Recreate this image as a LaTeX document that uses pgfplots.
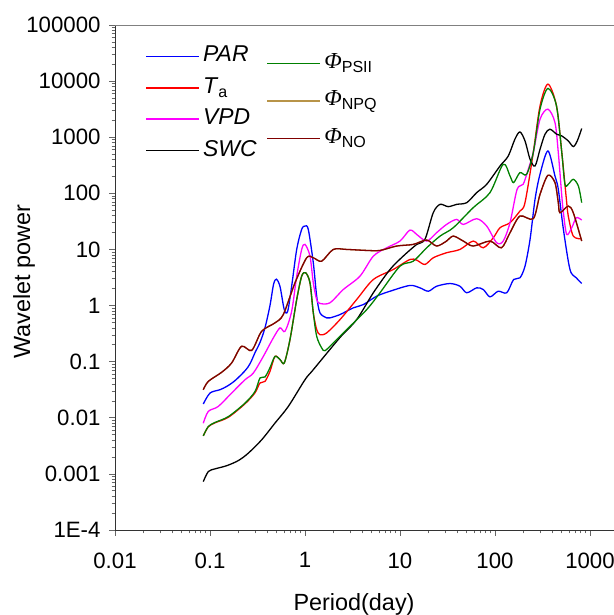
\documentclass[border=0pt]{standalone}
\usepackage{fontspec}
\setmainfont{Liberation Sans}
\newfontfamily\phifont{Liberation Serif}
\usepackage{pgfplots}
\pgfplotsset{compat=1.18}
\definecolor{cPAR}{RGB}{0,0,255}
\definecolor{cTa}{RGB}{255,0,0}
\definecolor{cVPD}{RGB}{255,0,255}
\definecolor{cSWC}{RGB}{0,0,0}
\definecolor{cPSII}{RGB}{0,128,0}
\definecolor{cNPQ}{RGB}{184,148,72}
\definecolor{cNO}{RGB}{128,0,0}
\newcommand{\Phis}{{\phifont\itshape Φ}}
\begin{document}
\begin{tikzpicture}
\begin{axis}[
  scale only axis, width=499bp, height=505bp,
  xmode=log, ymode=log,
  xmin=0.01, xmax=1790, ymin=1e-4, ymax=1e5,
  legend cell align=left,
  legend image code/.code={\fill[#1, draw=none] (0bp,-0.8bp) rectangle (53bp,0.8bp);},
  every axis plot/.append style={line width=1.3bp, smooth, tension=0.5},
  axis x line*=bottom, axis y line*=left,
  axis line style={-, black!80, line width=0.8bp},
  tick align=outside, major tick length=6bp, minor tick length=3.5bp,
  tick style={black!60, line width=0.6bp},
  xtick={0.01,0.1,1,10,100,1000}, xticklabels={0.01,0.1,1,10,100,1000},
  ytick={1e-4,1e-3,0.01,0.1,1,10,100,1000,1e4,1e5},
  yticklabels={1E-4,0.001,0.01,0.1,1,10,100,1000,10000,100000},
  ticklabel style={font=\fontsize{22.3}{26}\selectfont},
  xticklabel style={yshift=-13bp},
  yticklabel style={xshift=-5bp},
  xlabel={Period(day)}, ylabel={Wavelet power},
  label style={font=\fontsize{23.5}{27}\selectfont},
  xlabel style={at={(axis description cs:0.479,-0.147)}, anchor=center},
  ylabel style={at={(axis description cs:-0.1824,0.492)}, anchor=center},
  legend style={draw=none, fill=none, at={(axis description cs:0.062,0.961)}, anchor=north west,
    font=\fontsize{23}{27}\selectfont, column sep=4bp, row sep=8.4bp, inner sep=0pt,
    nodes={inner sep=0pt, text height=17bp, text depth=6bp}},
]
% PAR
\addplot[cPAR] coordinates {
(0.0850,0.0176) (0.1,0.0276) (0.127,0.0316) (0.150,0.0362) (0.183,0.0458) (0.234,0.069) (0.264,0.092) (0.298,0.145) (0.336,0.22) (0.379,0.40) (0.428,1.0) (0.467,2.4) (0.5,2.95) (0.546,2.18) (0.605,0.85) (0.657,0.79) (0.724,2.21) (0.818,10) (0.923,22.8) (1,26.1) (1.083,22.8) (1.223,5.79) (1.328,1.47) (1.438,0.741) (1.693,0.603) (1.833,0.603) (2.336,0.691) (3.225,0.910) (4.11,1.04) (5.69,1.47) (7.85,1.80) (12.7,2.28) (16.2,2.07) (19.9,1.80) (24.3,2.21) (33.6,2.47) (42.8,2.21) (50.4,1.69) (64.2,2.07) (75.3,1.93) (88.6,1.43) (108,1.80) (133,1.69) (157,2.91) (183,3.12) (207,5.03) (234,15.1) (264,78.2) (298,220) (361,569) (428,204) (464,118) (525,22.8) (616,4.39) (718,3.12) (818,2.47)
};
\addlegendentry{\textit{PAR}}
% Ta
\addplot[cTa] coordinates {
(0.0850,0.00477) (0.0960,0.0069) (0.113,0.00814) (0.156,0.0102) (0.234,0.0178) (0.298,0.0279) (0.336,0.0417) (0.379,0.0445) (0.428,0.0671) (0.483,0.124) (0.546,0.109) (0.605,0.0948) (0.695,0.247) (0.818,1.28) (0.923,3.34) (1.017,3.84) (1.129,2.54) (1.223,0.741) (1.328,0.373) (1.438,0.303) (1.693,0.326) (2.336,0.562) (3.50,1.28) (5.24,2.91) (8.49,4.39) (12.7,6.63) (15.0,6.44) (18.3,5.40) (22.4,7.11) (30.9,8.73) (42.8,10) (59.0,14.1) (75.3,10.7) (96.1,16.2) (113,24.4) (144,30.0) (183,48.3) (207,68.2) (253,533) (298,3622) (361,8840) (444,3622) (505,533) (569,68.2) (591,39.3) (667,17.3) (818,15.5)
};
\addlegendentry{\textit{T}\textsubscript{a}}
% VPD
\addplot[cVPD] coordinates {
(0.0850,0.0080) (0.0960,0.0130) (0.122,0.0159) (0.169,0.0276) (0.234,0.0477) (0.286,0.0628) (0.364,0.124) (0.464,0.265) (0.546,0.400) (0.616,0.348) (0.724,0.791) (0.818,3.34) (0.923,10) (1,12.3) (1.129,7.59) (1.223,2.54) (1.328,1.28) (1.438,1.09) (1.833,1.12) (2.53,1.93) (3.79,3.34) (5.24,7.59) (7.24,10.7) (10,14.1) (12.7,22.1) (15.0,18.5) (19.1,14.1) (24.3,19.9) (30.9,27.9) (39.5,34.3) (46.4,27.9) (64.2,35.3) (81.8,26.1) (104,13.2) (122,14.1) (144,30.0) (171,118) (198,145) (224,268) (253,533) (298,2096) (361,3162) (428,1830) (464,533) (505,89.5) (525,45.2) (569,18.5) (643,24.4) (718,36.8) (818,33.4)
};
\addlegendentry{\textit{VPD}}
% SWC
\addplot[cSWC] coordinates {
(0.0850,0.000729) (0.0960,0.00110) (0.113,0.00123) (0.150,0.00140) (0.199,0.00173) (0.253,0.00234) (0.350,0.00405) (0.483,0.00804) (0.667,0.0159) (1,0.0477) (1.223,0.0720) (2.336,0.27) (3.50,0.562) (5.24,1.69) (7.85,4.39) (10.8,7.59) (15.0,12.3) (18.3,15.1) (22.4,45.2) (26.4,63.6) (32.2,57.9) (39.5,63.6) (50.4,68.2) (64.2,103) (81.8,145) (113,307) (138,463) (162,921) (183,1244) (207,859) (234,405) (264,307) (298,610) (336,1131) (379,1390) (446,1131) (504,1055) (591,859) (667,682) (735,859) (818,1430)
};
\addlegendentry{\textit{SWC}}
\draw[gray, line width=0.8bp] (rel axis cs:0,1) -- (rel axis cs:1,1);
\end{axis}
\begin{axis}[
  scale only axis, width=499bp, height=505bp,
  xmode=log, ymode=log,
  xmin=0.01, xmax=1790, ymin=1e-4, ymax=1e5,
  hide axis,
  legend cell align=left,
  legend image code/.code={\fill[#1, draw=none] (0bp,-0.8bp) rectangle (53bp,0.8bp);},
  every axis plot/.append style={line width=1.3bp, smooth, tension=0.5},
  legend style={draw=none, fill=none, at={(axis description cs:0.305,0.948)}, anchor=north west,
    font=\fontsize{23}{27}\selectfont, column sep=4bp, row sep=13.5bp, inner sep=0pt,
    nodes={inner sep=0pt, text height=17bp, text depth=7bp}},
]
% PSII
\addplot[cPSII] coordinates {
(0.0850,0.00477) (0.0960,0.0070) (0.113,0.00826) (0.156,0.0105) (0.234,0.0183) (0.298,0.0295) (0.336,0.0512) (0.379,0.0533) (0.428,0.0781) (0.483,0.124) (0.546,0.109) (0.605,0.0948) (0.695,0.247) (0.818,1.28) (0.923,3.34) (1.017,3.84) (1.129,2.54) (1.223,0.741) (1.328,0.283) (1.498,0.176) (1.624,0.157) (1.985,0.216) (2.75,0.373) (4.47,0.849) (6.16,1.69) (10,5.03) (13.8,6.18) (19.1,10.7) (26.4,17.3) (36.4,24.4) (59.0,55.6) (88.6,103) (122,330) (144,204) (157,155) (183,234) (215,218) (253,533) (298,3162) (361,7410) (444,3622) (505,533) (545,145) (591,145) (667,178) (755,135) (818,68.2)
};
\addlegendentry{\Phis\textsubscript{PSII}}
% Phi_NPQ (lies under Phi_NO)
\addplot[cNPQ] coordinates {
(0.0850,0.0316) (0.0960,0.0445) (0.133,0.0649) (0.169,0.0948) (0.215,0.188) (0.275,0.159) (0.350,0.348) (0.483,0.491) (0.591,0.691) (0.785,2.54) (1.042,7.11) (1.223,7.11) (1.498,6.18) (1.985,10) (2.75,10) (4.47,9.6) (6.16,9.6) (9.23,11.5) (13.8,12.3) (19.1,14.7) (24.3,11.5) (30.9,14.1) (36.4,17.3) (46.4,14.1) (59.0,11.5) (88.6,14.1) (117,10.7) (144,19.9) (183,39.3) (253,35.3) (298,96) (361,210) (428,155) (464,68.2) (483,45.2) (591,59.3) (667,45.2) (818,14.1)
};
\addlegendentry{\Phis\textsubscript{NPQ}}
% Phi_NO
\addplot[cNO] coordinates {
(0.0850,0.0316) (0.0960,0.0445) (0.133,0.0649) (0.169,0.0948) (0.215,0.188) (0.275,0.159) (0.350,0.348) (0.483,0.491) (0.591,0.691) (0.785,2.54) (1.042,7.11) (1.223,7.11) (1.498,6.18) (1.985,10) (2.75,10) (4.47,9.6) (6.16,9.6) (9.23,11.5) (13.8,12.3) (19.1,14.7) (24.3,11.5) (30.9,14.1) (36.4,17.3) (46.4,14.1) (59.0,11.5) (88.6,14.1) (117,10.7) (144,19.9) (183,39.3) (253,35.3) (298,96) (361,210) (428,155) (464,68.2) (483,45.2) (591,59.3) (667,45.2) (818,14.1)
};
\addlegendentry{\Phis\textsubscript{NO}}
\end{axis}
\pgfresetboundingbox
\path[use as bounding box] (-115bp,-85bp) rectangle (499bp,530bp);
\end{tikzpicture}
\end{document}
